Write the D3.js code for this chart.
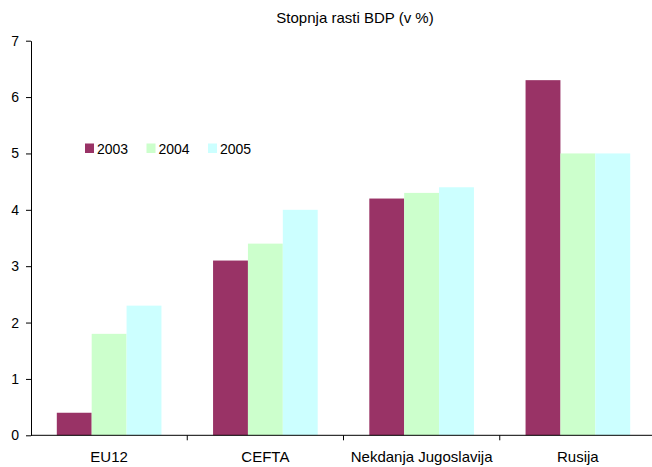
<!DOCTYPE html>
<html>
<head>
<meta charset="utf-8">
<script src="https://cdn.jsdelivr.net/npm/d3@7"></script>
<style>
  html, body { margin: 0; padding: 0; background: #fff; }
  svg { display: block; font-family: "Liberation Sans", Arial, sans-serif; }
</style>
</head>
<body>
<svg id="chart" width="652" height="467"></svg>
<script>
// GDP growth rates by region, 2003–2005
const categories = ["EU12", "CEFTA", "Nekdanja Jugoslavija", "Rusija"];
const years = ["2003", "2004", "2005"];
const values2003 = [0.4, 3.1, 4.2, 6.3];
const values2004 = [1.8, 3.4, 4.3, 5.0];
const values2005 = [2.3, 4.0, 4.4, 5.0];
const yTicks = [0, 1, 2, 3, 4, 5, 6, 7];
const colors = ["#993366", "#CCFFCC", "#CCFFFF"];
const title = "Stopnja rasti BDP (v %)";

const series = [values2003, values2004, values2005];
const rows = categories.map((c, i) => ({ cat: c, vals: series.map(s => s[i]) }));

const svg = d3.select("#chart");
const plotLeft = 31, plotRight = 656, plotTop = 40.7, plotBottom = 435.3;

const x = d3.scaleBand().domain(categories).range([plotLeft, plotRight]).paddingInner(0).paddingOuter(0);
const inner = d3.scaleBand().domain(years).range([0, x.bandwidth()])
  .paddingInner(0).paddingOuter(0.74);
const y = d3.scaleLinear().domain([0, 7]).range([plotBottom, plotTop]);

// Bars
const groups = svg.append("g").selectAll("g").data(rows).join("g")
  .attr("transform", d => `translate(${x(d.cat)},0)`);
groups.selectAll("rect").data(d => d.vals.map((v, k) => ({ v, k })))
  .join("rect")
  .attr("x", d => inner(years[d.k]))
  .attr("width", inner.bandwidth())
  .attr("y", d => y(d.v))
  .attr("height", d => y(0) - y(d.v))
  .attr("fill", d => colors[d.k]);

// Y axis
const yAxis = svg.append("g").attr("transform", `translate(${plotLeft},0)`)
  .call(d3.axisLeft(y).tickValues(yTicks).tickFormat(d3.format("d")).tickSize(5).tickSizeOuter(0).tickPadding(7));
yAxis.selectAll("text").attr("font-size", 14).attr("fill", "#000").attr("font-family", "Liberation Sans, Arial, sans-serif");
yAxis.selectAll("line, path").attr("stroke", "#000");

// X axis with boundary ticks between categories
const xAxisG = svg.append("g").attr("transform", `translate(0,${plotBottom})`);
xAxisG.append("line").attr("x1", plotLeft).attr("x2", 652).attr("stroke", "#000");
const boundaries = categories.slice(1).map(c => x(c));
xAxisG.selectAll(".bt").data(boundaries).join("line")
  .attr("x1", d => d).attr("x2", d => d).attr("y1", 0).attr("y2", 5).attr("stroke", "#000");
xAxisG.selectAll(".cl").data(categories).join("text")
  .attr("x", d => x(d) + x.bandwidth() / 2)
  .attr("y", 27)
  .attr("text-anchor", "middle")
  .attr("font-size", 15)
  .attr("fill", "#000")
  .text(d => d);

// Title
svg.append("text").attr("x", 355).attr("y", 22.5).attr("text-anchor", "middle")
  .attr("font-size", 15).attr("fill", "#000").text(title);

// Legend
const legend = svg.append("g").attr("transform", "translate(85,143.5)");
const li = legend.selectAll("g").data(years).join("g")
  .attr("transform", (d, i) => `translate(${i * 61.5},0)`);
li.append("rect").attr("width", 9).attr("height", 9.5).attr("fill", (d, i) => colors[i]);
li.append("text").attr("x", 12).attr("y", 10).attr("font-size", 14).attr("fill", "#000").text(d => d);
</script>
</body>
</html>
